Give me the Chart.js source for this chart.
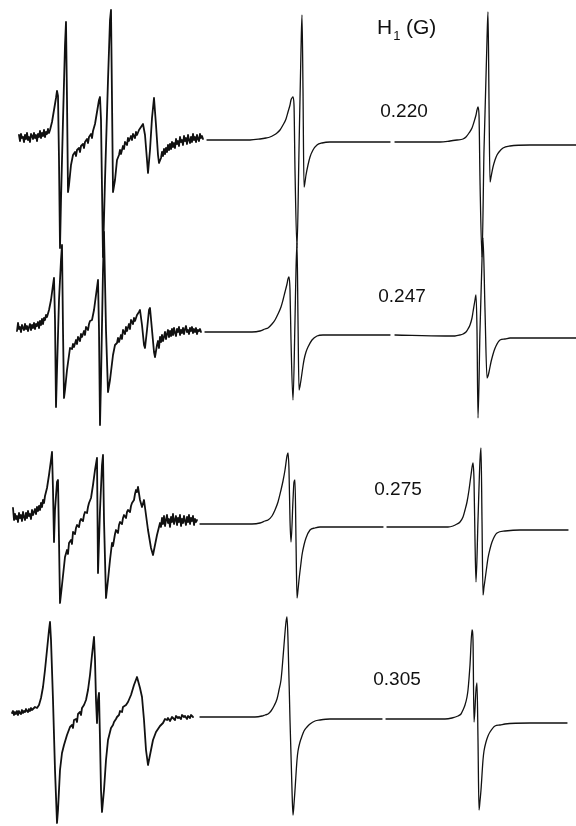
<!DOCTYPE html>
<html>
<head>
<meta charset="utf-8">
<script src="https://cdn.jsdelivr.net/npm/chart.js@4/dist/chart.umd.min.js"></script>
<style>
  html, body { margin: 0; padding: 0; background: #fff; }
  canvas { display: block; }
</style>
</head>
<body>
<canvas id="spectra" width="576" height="826"></canvas>
<script>
// H1 values for each row (top to bottom)
const h1Values = ['0.220', '0.247', '0.275', '0.305'];

// each trace is [field, signal] pairs (signal: up is positive)
// experimental, H1 = 0.220
const exp220 = [[19,5],[20,-1],[21,6],[22,2],[23,3],[24,-2],[25,5],[26,1],[27,7],[28,0],[29,3],[30,-2],[31,6],[32,4],[33,1],[34,7],[35,2],[36,5],[37,-1],[38,6],[39,3],[40,9],[41,2],[42,7],[43,4],[44,10],[45,3],[46,8],[47,6],[48,11],[49,7],[50,10],
  [52,18],[54,30],[56,42],[57,49],[58,44],[59,-20],[60,-108],[61,-60],[63,20],[65,95],[66,118],[67,40],[68,-52],[69,-45],[71,-25],[73,-15],
  [75,-12],[76,-16],[77,-10],[79,-8],[80,-12],[81,-6],[83,-4],[84,-8],[85,-2],[87,1],[88,-3],[89,3],[91,6],[92,2],[93,9],[95,16],[97,28],[99,40],[100,43],[101,20],[103,-117],[105,-40],[108,60],[110,120],[111,130],[112,40],[113,-52],[115,-40],[117,-20],
  [119,-15],[120,-10],[121,-14],[123,-6],[124,-9],[125,-2],[127,-5],[128,2],[129,-1],[131,4],[132,0],[133,6],[135,2],[136,8],[137,5],[139,10],[141,13],[143,16],[145,5],[147,-20],[148,-33],[150,-10],[152,22],[154,42],[156,15],[158,-15],[159,-23],
  [161,-18],[162,-12],[163,-16],[164,-9],[165,-14],[166,-8],[167,-12],[168,-5],[169,-10],[170,-4],[171,-9],[172,-2],[173,-7],[174,-3],[175,-8],[176,1],[177,-4],[178,-1],[179,-6],[180,3],[181,-2],[182,0],[183,-5],[184,4],[185,-1],[186,2],[187,-4],[188,5],[189,0],[190,-3],[191,3],[192,-2],[193,6],[194,0],[195,3],[196,-2],[197,5],[198,1],[199,-1],[200,6],[201,2],[202,4],[203,1]];
// simulated, H1 = 0.220
const sim220 = [[207,0],[230,0],[250,0],[260,1],[266,2],[270,3],[274,5],[277,7],[280,10],[283,15],[286,21],[288,28],[290,35],[291,40],[292,42],[293,43],[294,35],[295,-30],[297,-108],[299,-10],[301,90],[302,125],[303,50],[304,-47],[305,-42],[306,-35],[308,-25],[310,-17],[313,-10],[317,-5],[322,-3],[330,-2],[340,-2],[390,-2],[392,null],
  [395,-2],[440,-2],[450,-1],[457,0],[463,1],[466,3],[469,7],[472,12],[474,18],[476,25],[477,30],[478,33],[479,25],[480,-40],[482,-117],[484,-10],[487,100],[488,128],[489,40],[490,-42],[491,-37],[493,-27],[495,-20],[497,-15],[499,-12],[503,-8],[510,-6],[530,-5],[576,-5]];

// experimental, H1 = 0.247
const exp247 = [[17,2],[18,10],[19,4],[20,6],[21,1],[22,8],[23,5],[24,3],[25,9],[26,4],[27,7],[28,2],[29,6],[30,9],[31,3],[32,8],[33,5],[34,10],[35,4],[36,9],[37,7],[38,11],[39,5],[40,12],[41,8],[42,14],[43,9],[44,15],[45,13],[46,18],[47,16],
  [49,23],[51,33],[53,48],[54,55],[55,13],[56,-74],[57,-37],[59,33],[61,73],[62,88],[63,3],[64,-65],[65,-57],[67,-37],[70,-15],
  [72,-16],[73,-11],[74,-14],[76,-7],[77,-11],[78,-4],[80,-8],[81,-1],[82,-4],[84,2],[85,-2],[86,6],[88,3],[89,9],[90,12],[92,13],[94,23],[96,38],[98,53],[99,3],[100,-92],[101,-47],[103,63],[104,101],[106,3],[108,-59],[110,-47],[113,-22],[115,-12],
  [117,-10],[118,-5],[119,-9],[121,-2],[122,-6],[123,3],[125,-1],[126,6],[127,2],[129,9],[130,4],[131,13],[133,9],[134,15],[135,12],[137,18],[139,21],[140,23],[142,8],[144,-12],[145,-15],[147,3],[149,23],[150,25],[152,3],[154,-19],[155,-24],
  [157,-12],[158,-8],[159,-15],[160,-4],[161,-9],[162,-2],[163,-8],[164,-4],[165,1],[166,-6],[167,-1],[168,3],[169,-4],[170,2],[171,-3],[172,4],[173,-2],[174,5],[175,0],[176,-3],[177,4],[178,1],[179,6],[180,-2],[181,3],[182,0],[183,5],[184,-1],[185,4],[186,7],[187,1],[188,3],[189,-1],[190,5],[191,2],[192,6],[193,0],[194,4],[195,1],[196,5],[197,-1],[198,3],[199,2],[200,4],[201,1]];
// simulated, H1 = 0.247
const sim247 = [[205,1],[240,1],[252,1],[260,2],[265,4],[268,5],[272,9],[275,13],[278,19],[281,26],[283,33],[285,41],[287,49],[288,54],[289,56],[290,43],[291,-7],[293,-67],[295,13],[296,63],[297,90],[298,13],[299,-57],[300,-53],[301,-47],[303,-33],[304,-27],[306,-19],[308,-14],[312,-7],[317,-3],[323,-2],[330,-2],[390,-2],[392,null],
  [395,-2],[445,-3],[455,-3],[460,-2],[463,-1],[466,1],[468,4],[470,8],[472,15],[473,21],[475,33],[476,38],[477,3],[478,-85],[480,3],[482,73],[483,95],[485,23],[487,-45],[488,-43],[489,-39],[491,-29],[492,-25],[494,-18],[496,-13],[500,-7],[505,-6],[510,-5],[576,-5]];

// experimental, H1 = 0.275
const exp275 = [[13,16],[14,4],[15,10],[16,5],[17,8],[18,2],[19,11],[20,6],[21,9],[22,3],[23,12],[24,7],[25,4],[26,11],[27,6],[28,13],[29,8],[30,10],[31,5],[32,14],[33,9],[34,12],[35,15],[36,10],[37,17],[38,13],[39,18],[40,14],[41,21],[42,17],[43,24],[44,21],[45,28],
  [47,36],[49,49],[51,64],[52,72],[53,34],[54,-18],[55,14],[57,42],[58,44],[59,-16],[60,-79],[62,-61],[65,-33],[67,-26],[68,-30],[69,-19],[71,-16],[72,-20],[73,-8],[75,-10],[76,-4],[77,-1],[79,-3],[80,3],[81,5],[83,3],[84,9],[85,12],[87,11],[88,17],[89,21],[91,26],[93,39],[95,54],[97,66],
  [98,-49],[100,14],[102,59],[103,69],[104,4],[106,-74],[108,-56],[110,-36],[112,-19],[113,-22],[114,-16],[115,-10],[116,-6],[118,-9],[119,-1],[120,2],[122,0],[123,6],[124,9],[126,6],[127,12],[128,14],[130,12],[131,18],[132,21],[134,24],[135,30],[136,34],[137,32],[138,37],[140,24],[142,17],[144,24],[146,9],[148,-6],[151,-24],[153,-31],
  [155,-21],[157,-11],[160,1],[161,-3],[162,6],[163,0],[164,8],[165,-2],[166,4],[167,9],[168,1],[169,5],[170,-3],[171,7],[172,2],[173,10],[174,0],[175,4],[176,8],[177,-1],[178,6],[179,2],[180,9],[181,-2],[182,5],[183,1],[184,8],[185,3],[186,-1],[187,7],[188,2],[189,9],[190,0],[191,6],[192,3],[193,8],[194,-1],[195,5],[196,2],[197,4]];
// simulated, H1 = 0.275
const sim275 = [[200,0],[240,0],[252,0],[260,1],[265,3],[268,4],[272,8],[275,14],[278,22],[281,34],[283,43],[285,54],[287,68],[288,71],[289,54],[290,4],[291,-18],[293,24],[294,42],[295,44],[296,-16],[297,-74],[298,-66],[299,-56],[301,-39],[302,-31],[304,-21],[306,-14],[310,-6],[315,-4],[320,-3],[383,-3],[385,null],
  [387,-3],[440,-3],[448,-3],[453,-2],[457,0],[460,2],[463,7],[465,14],[467,22],[469,34],[471,49],[473,61],[474,44],[475,-16],[476,-58],[478,4],[480,64],[481,76],[482,4],[483,-71],[484,-63],[485,-56],[487,-41],[488,-34],[490,-25],[492,-18],[497,-9],[505,-7],[520,-6],[568,-6]];

// experimental, H1 = 0.305
const exp305 = [[12,3],[13,5],[14,1],[15,4],[16,2],[17,5],[18,1],[19,5],[20,3],[21,2],[22,6],[23,3],[24,5],[25,4],[26,7],[27,5],[28,4],[29,7],[30,5],[31,8],[32,6],[33,7],[35,9],[37,8],[39,11],[41,18],[43,29],[45,46],[47,66],[49,86],[50,94],[51,76],[53,16],[55,-54],[57,-107],[58,-94],[60,-54],[62,-37],[64,-29],[67,-19],[70,-11],
  [72,-9],[73,-12],[74,-4],[76,-3],[77,-6],[78,2],[80,4],[81,1],[82,8],[84,11],[86,16],[88,26],[90,41],[92,61],[94,79],[95,56],[96,16],[97,-7],[98,16],[99,23],[100,-24],[101,-74],[102,-96],[104,-74],[106,-44],[108,-24],[111,-12],[113,-9],[114,-6],[116,-3],[117,-1],
  [119,1],[120,5],[122,4],[123,9],[126,11],[128,14],[131,21],[134,31],[137,39],[140,28],[142,19],[144,-4],[146,-34],[148,-49],[150,-39],[153,-24],[156,-16],[160,-10],[163,-7],[165,-3],[167,-4],[168,-2],[170,-5],[172,-1],[173,-2],[175,-4],[176,0],[178,-2],[179,-1],[181,-3],[182,1],[184,-1],[185,0],[187,-3],[188,0],[190,-2],[191,1],[193,-1]];
// simulated, H1 = 0.305
const sim305 = [[200,-1],[240,-1],[255,-1],[262,0],[265,1],[268,2],[271,5],[274,10],[277,17],[279,26],[281,36],[282,46],[284,71],[286,94],[287,99],[288,76],[290,-4],[292,-74],[293,-99],[294,-88],[295,-74],[297,-44],[298,-35],[300,-26],[302,-20],[304,-15],[307,-11],[310,-8],[315,-5],[320,-4],[330,-3],[382,-3],[384,null],
  [386,-3],[445,-3],[452,-2],[458,0],[461,2],[463,6],[465,11],[467,19],[468,26],[470,51],[472,86],[473,76],[474,-6],[476,26],[477,33],[478,-24],[479,-94],[480,-85],[481,-74],[483,-44],[484,-35],[486,-26],[488,-20],[490,-16],[495,-10],[500,-9],[505,-8],[530,-7],[567,-7]];

// layout: baseline of each row on the y scale, and where the labels go
const rowBase = [140, 333, 524, 716];
const labelRowX = [404, 402, 398, 397];
const labelRowY = [112, 297, 490, 680];

function toPoints(pairs, base) {
  return pairs.map(([x, a]) => ({ x: x, y: a === null ? null : base - a }));
}

const traces = [
  [exp220, sim220], [exp247, sim247], [exp275, sim275], [exp305, sim305]
];

const datasets = [];
traces.forEach((pair, i) => {
  datasets.push({ data: toPoints(pair[0], rowBase[i]), borderWidth: 1.8, borderColor: '#111' });
  // the simulated curves are smooth
  datasets.push({ data: toPoints(pair[1], rowBase[i]), borderWidth: 1.3, borderColor: '#111', cubicInterpolationMode: 'monotone' });
});

// draws the H1 (G) heading and the value of each row
const labelPlugin = {
  id: 'labels',
  afterDraw(chart) {
    const ctx = chart.ctx;
    const xs = chart.scales.x, ys = chart.scales.y;
    ctx.save();
    ctx.fillStyle = '#111';
    ctx.textBaseline = 'middle';
    ctx.textAlign = 'center';
    ctx.font = '19px "Liberation Sans", Arial, sans-serif';
    h1Values.forEach((v, i) => {
      ctx.fillText(v, xs.getPixelForValue(labelRowX[i]), ys.getPixelForValue(labelRowY[i]));
    });
    // heading with subscript
    const hx = xs.getPixelForValue(377), hy = ys.getPixelForValue(28);
    ctx.textAlign = 'left';
    ctx.font = '21px "Liberation Sans", Arial, sans-serif';
    ctx.fillText('H', hx, hy);
    const hw = ctx.measureText('H').width;
    ctx.font = '13px "Liberation Sans", Arial, sans-serif';
    ctx.fillText('1', hx + hw + 1, hy + 8);
    ctx.font = '21px "Liberation Sans", Arial, sans-serif';
    ctx.fillText(' (G)', hx + hw + 8, hy);
    ctx.restore();
  }
};

new Chart(document.getElementById('spectra').getContext('2d'), {
  type: 'scatter',
  data: { datasets: datasets },
  options: {
    responsive: false,
    animation: false,
    devicePixelRatio: 1,
    showLine: true,
    spanGaps: false,
    layout: { padding: 0 },
    elements: {
      point: { radius: 0, hoverRadius: 0 },
      line: { tension: 0, borderJoinStyle: 'round', borderCapStyle: 'round' }
    },
    scales: {
      x: { type: 'linear', min: 0, max: 576, display: false },
      y: { type: 'linear', min: 0, max: 826, reverse: true, display: false }
    },
    plugins: { legend: { display: false }, tooltip: { enabled: false } }
  },
  plugins: [labelPlugin]
});
</script>
</body>
</html>
